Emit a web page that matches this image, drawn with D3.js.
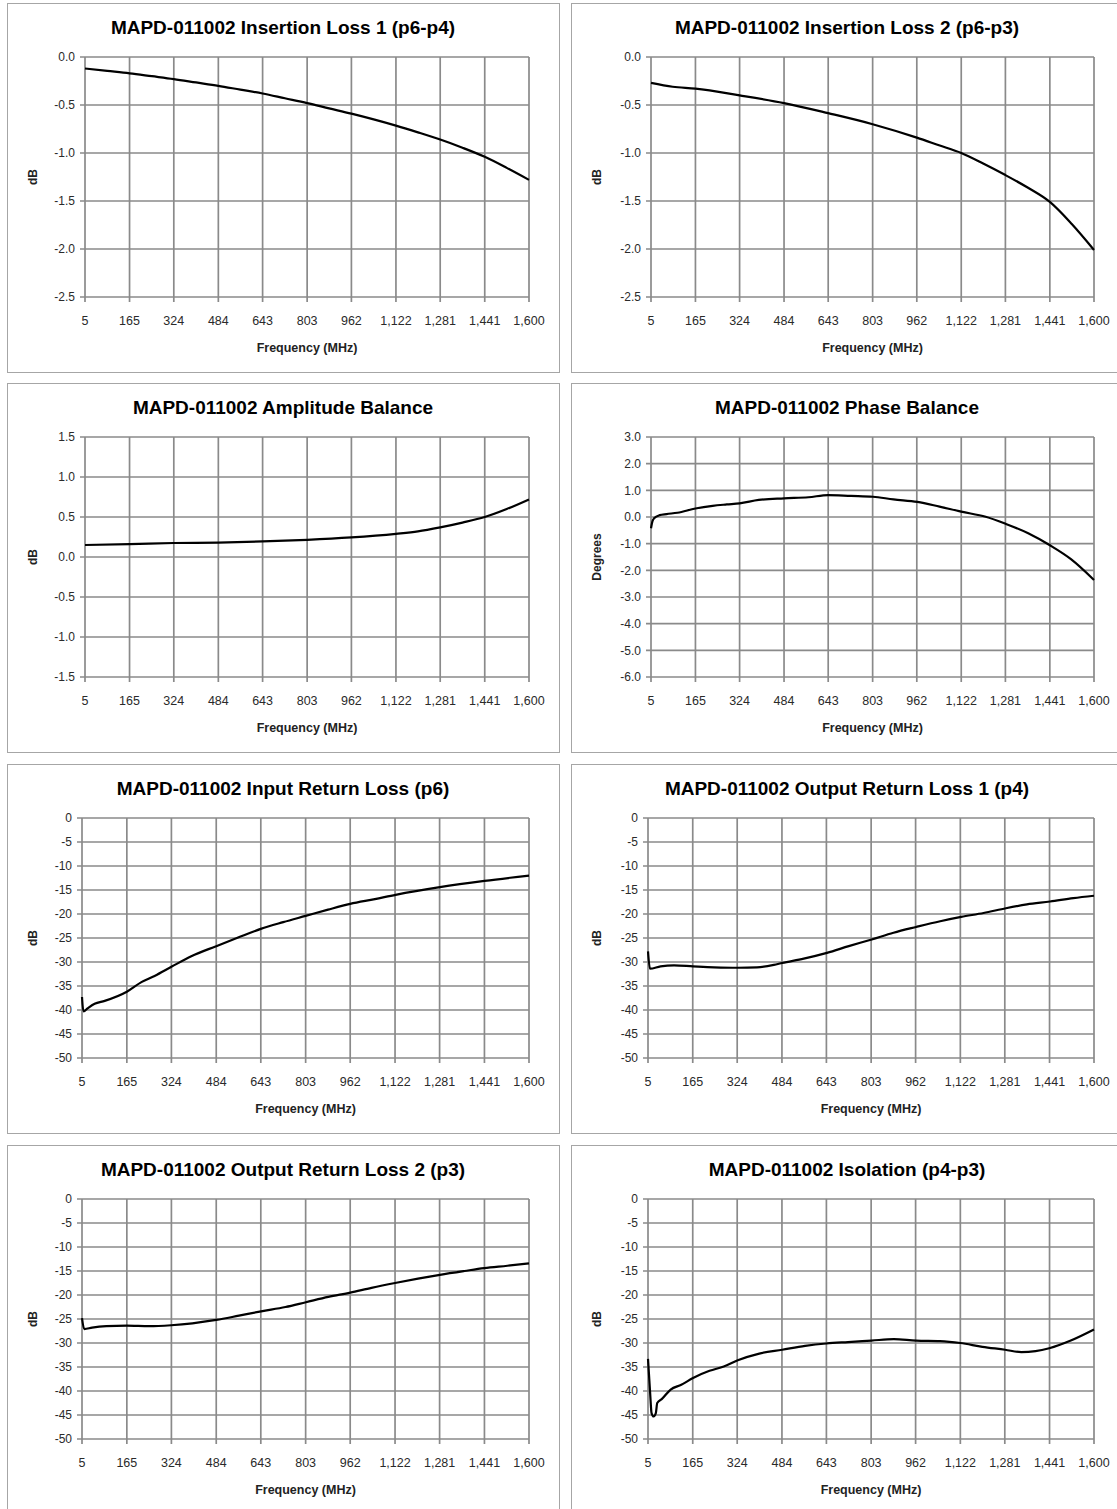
<!DOCTYPE html>
<html>
<head>
<meta charset="utf-8">
<script src="https://cdn.jsdelivr.net/npm/d3@7"></script>
<style>
  html, body { margin: 0; padding: 0; background: #fff; }
  svg { display: block; }
</style>
</head>
<body>
<svg id="chart" width="1117" height="1509"></svg>
<script>
// ---------- DATA ----------
const freqTicks = [5, 165, 324, 484, 643, 803, 962, 1122, 1281, 1441, 1600];

const titles = [
  "MAPD-011002 Insertion Loss 1 (p6-p4)",
  "MAPD-011002 Insertion Loss 2 (p6-p3)",
  "MAPD-011002 Amplitude Balance",
  "MAPD-011002 Phase Balance",
  "MAPD-011002 Input Return Loss (p6)",
  "MAPD-011002 Output Return Loss 1 (p4)",
  "MAPD-011002 Output Return Loss 2 (p3)",
  "MAPD-011002 Isolation (p4-p3)"
];
const yTitles = ["dB", "dB", "dB", "Degrees", "dB", "dB", "dB", "dB"];
const xTitle = "Frequency (MHz)";

const ticksIL = [0, -0.5, -1.0, -1.5, -2.0, -2.5];
const ticksAmp = [1.5, 1.0, 0.5, 0.0, -0.5, -1.0, -1.5];
const ticksPhase = [3, 2, 1, 0, -1, -2, -3, -4, -5, -6];
const ticksRL = [0, -5, -10, -15, -20, -25, -30, -35, -40, -45, -50];

const il1Freq = [5, 85, 165, 245, 324, 404, 484, 563, 643, 723, 803, 882, 962, 1042, 1122, 1201, 1281, 1361, 1441, 1520, 1600];
const il1Val  = [-0.12, -0.145, -0.17, -0.20, -0.23, -0.265, -0.30, -0.34, -0.38, -0.43, -0.48, -0.535, -0.59, -0.65, -0.715, -0.785, -0.86, -0.945, -1.04, -1.155, -1.28];

const il2Freq = [5, 83, 165, 324, 484, 643, 803, 962, 1042, 1122, 1201, 1281, 1361, 1441, 1520, 1600];
const il2Val  = [-0.27, -0.31, -0.33, -0.40, -0.48, -0.585, -0.70, -0.84, -0.92, -1.0, -1.11, -1.23, -1.36, -1.51, -1.74, -2.01];

const ampFreq = [5, 165, 324, 484, 643, 803, 962, 1122, 1201, 1281, 1361, 1441, 1520, 1600];
const ampVal  = [0.15, 0.16, 0.175, 0.18, 0.195, 0.215, 0.245, 0.29, 0.32, 0.37, 0.43, 0.50, 0.60, 0.72];

const phFreq = [5, 10, 16, 36, 61, 100, 165, 227, 278, 324, 393, 484, 572, 643, 725, 804, 878, 964, 1044, 1122, 1210, 1283, 1363, 1443, 1517, 1600];
const phVal  = [-0.42, -0.17, -0.05, 0.07, 0.11, 0.16, 0.32, 0.42, 0.47, 0.51, 0.64, 0.70, 0.74, 0.82, 0.79, 0.76, 0.66, 0.57, 0.39, 0.20, 0.01, -0.26, -0.61, -1.07, -1.58, -2.36];

const irlFreq = [5, 10, 26, 50, 86, 165, 217, 264, 324, 395, 484, 562, 643, 723, 803, 883, 962, 1050, 1124, 1282, 1441, 1600];
const irlVal  = [-37.3, -40.3, -39.6, -38.7, -38.1, -36.2, -34.2, -32.9, -31.0, -28.8, -26.7, -24.9, -23.1, -21.7, -20.4, -19.1, -17.9, -16.9, -16.0, -14.4, -13.1, -12.0];

const orl1Freq = [5, 12, 50, 98, 166, 241, 326, 395, 455, 485, 562, 645, 723, 805, 883, 964, 1050, 1125, 1205, 1285, 1360, 1443, 1526, 1600];
const orl1Val  = [-27.8, -31.4, -30.9, -30.7, -30.9, -31.1, -31.2, -31.1, -30.6, -30.2, -29.3, -28.1, -26.7, -25.3, -23.9, -22.7, -21.5, -20.6, -19.8, -18.8, -18.0, -17.4, -16.7, -16.2];

const orl2Freq = [5, 13, 41, 92, 165, 245, 323, 399, 484, 565, 644, 731, 804, 884, 962, 1038, 1122, 1204, 1282, 1370, 1440, 1523, 1600];
const orl2Val  = [-24.8, -27.1, -26.8, -26.5, -26.4, -26.5, -26.3, -25.9, -25.2, -24.3, -23.4, -22.5, -21.5, -20.4, -19.5, -18.5, -17.5, -16.6, -15.8, -15.0, -14.4, -13.9, -13.4];

const isoFreq = [5, 12.6, 17.7, 25, 33, 38, 54, 86, 124, 166, 225, 276, 326, 403, 485, 567, 643, 720, 804, 884, 964, 1049, 1122, 1201, 1282, 1340, 1391, 1440, 1517, 1600];
const isoVal  = [-33.3, -40.4, -44.6, -45.3, -44.6, -42.5, -41.7, -39.7, -38.7, -37.3, -35.8, -34.9, -33.6, -32.2, -31.4, -30.6, -30.1, -29.8, -29.5, -29.2, -29.5, -29.6, -30.0, -30.8, -31.4, -31.9, -31.7, -31.1, -29.5, -27.2];

// ---------- BUILD ----------
const loc = d3.formatLocale({decimal: ".", thousands: ",", grouping: [3], currency: ["$", ""], minus: "-"});
const fmtX = loc.format(",");
const fmt1 = loc.format(".1f");
const fmt0 = loc.format("d");

const panels = [
  {title: titles[0], yt: yTitles[0], ticks: ticksIL, fmt: fmt1, fx: il1Freq, fy: il1Val},
  {title: titles[1], yt: yTitles[1], ticks: ticksIL, fmt: fmt1, fx: il2Freq, fy: il2Val},
  {title: titles[2], yt: yTitles[2], ticks: ticksAmp, fmt: fmt1, fx: ampFreq, fy: ampVal},
  {title: titles[3], yt: yTitles[3], ticks: ticksPhase, fmt: fmt1, fx: phFreq, fy: phVal},
  {title: titles[4], yt: yTitles[4], ticks: ticksRL, fmt: fmt0, fx: irlFreq, fy: irlVal},
  {title: titles[5], yt: yTitles[5], ticks: ticksRL, fmt: fmt0, fx: orl1Freq, fy: orl1Val},
  {title: titles[6], yt: yTitles[6], ticks: ticksRL, fmt: fmt0, fx: orl2Freq, fy: orl2Val},
  {title: titles[7], yt: yTitles[7], ticks: ticksRL, fmt: fmt0, fx: isoFreq, fy: isoVal}
];

const svg = d3.select("#chart");
const rowTops = [3, 383, 764, 1145];
const colBox = [{x: 7, w: 552, tc: 283, yl: 33, pr: 529}, {x: 571, w: 556, tc: 847, yl: 597, pr: 1094}];
const gridColor = "#8a8a8a";
const labelColor = "#2a2a2a";
const font = "'Liberation Sans', Arial, sans-serif";

panels.forEach((p, i) => {
  const row = Math.floor(i / 2), col = i % 2;
  const cb = colBox[col];
  const top = rowTops[row];
  const g = svg.append("g");

  g.append("rect").attr("x", cb.x + 0.5).attr("y", top + 0.5)
    .attr("width", cb.w).attr("height", 369)
    .attr("fill", "#fff").attr("stroke", "#a6a6a6").attr("stroke-width", 1);

  const integerTicks = p.fmt === fmt0;
  const left = col === 0 ? (integerTicks ? 82 : 85) : (integerTicks ? 648 : 651);
  const right = cb.pr;
  const pTop = top + 54, pBot = top + 294;

  const x = d3.scaleLinear().domain([5, 1600]).range([left, right]);
  const y = d3.scaleLinear().domain([d3.min(p.ticks), d3.max(p.ticks)]).range([pBot, pTop]);

  // horizontal grid
  g.append("g").selectAll("line").data(p.ticks).join("line")
    .attr("x1", left - 5).attr("x2", right)
    .attr("y1", d => y(d)).attr("y2", d => y(d))
    .attr("stroke", gridColor).attr("stroke-width", 1.7);
  // vertical grid
  g.append("g").selectAll("line").data(freqTicks).join("line")
    .attr("x1", d => x(d)).attr("x2", d => x(d))
    .attr("y1", pTop).attr("y2", pBot + 5)
    .attr("stroke", gridColor).attr("stroke-width", 1.7);

  // y tick labels
  g.append("g").selectAll("text").data(p.ticks).join("text")
    .attr("x", left - 10).attr("y", d => y(d)).attr("dy", "0.35em")
    .attr("text-anchor", "end").attr("font-family", font).attr("font-size", 12)
    .attr("fill", labelColor).text(d => p.fmt(d));
  // x tick labels
  g.append("g").selectAll("text").data(freqTicks).join("text")
    .attr("x", d => x(d)).attr("y", pBot + 24).attr("dy", "0.35em")
    .attr("text-anchor", "middle").attr("font-family", font).attr("font-size", 12.5)
    .attr("fill", labelColor).text(d => fmtX(d));

  // titles
  g.append("text").attr("x", cb.tc).attr("y", top + 24).attr("dy", "0.35em")
    .attr("text-anchor", "middle").attr("font-family", font).attr("font-weight", "bold")
    .attr("font-size", 19).attr("fill", "#000").text(p.title);
  g.append("text").attr("x", (left + right) / 2).attr("y", pBot + 51).attr("dy", "0.35em")
    .attr("text-anchor", "middle").attr("font-family", font).attr("font-weight", "bold")
    .attr("font-size", 12.5).attr("fill", "#222").text(xTitle);
  g.append("text").attr("transform", `translate(${cb.yl},${(pTop + pBot) / 2}) rotate(-90)`)
    .attr("dy", "0.35em").attr("text-anchor", "middle").attr("font-family", font)
    .attr("font-weight", "bold").attr("font-size", 12).attr("fill", "#222").text(p.yt);

  // series line
  const pts = p.fx.map((f, k) => [f, p.fy[k]]);
  g.append("path").datum(pts)
    .attr("fill", "none").attr("stroke", "#000").attr("stroke-width", 2.2)
    .attr("stroke-linejoin", "round")
    .attr("d", d3.line().x(d => x(d[0])).y(d => y(d[1])).curve(d3.curveMonotoneX));
});
</script>
</body>
</html>
